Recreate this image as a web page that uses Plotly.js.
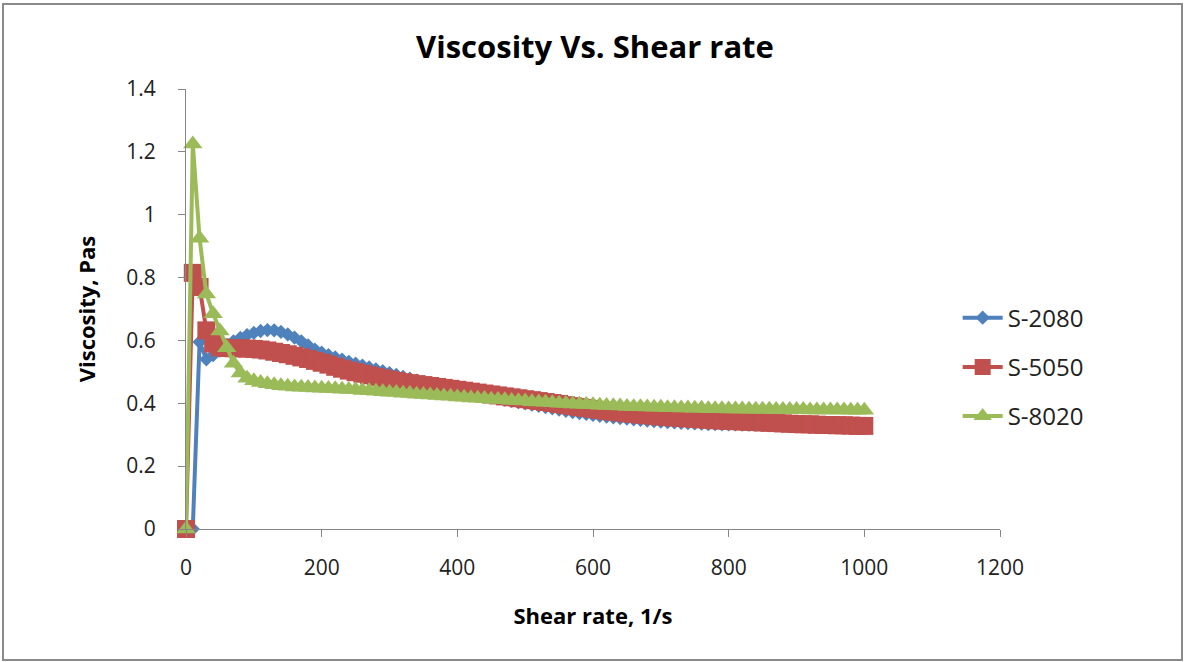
<!DOCTYPE html>
<html>
<head>
<meta charset="utf-8">
<script src="https://cdn.plot.ly/plotly-3.0.1.min.js"></script>
<style>
html,body{margin:0;padding:0;background:#fff;}
#chart{width:1190px;height:662px;}
</style>
</head>
<body>
<div id="chart"></div>
<script>
// Shear rate, 1/s
const shearRate = [0,10,20,30,40,50,60,70,80,90,100,110,120,130,140,150,160,170,180,190,200,
  210,220,230,240,250,260,270,280,290,300,310,320,330,340,350,360,370,380,390,400,
  410,420,430,440,450,460,470,480,490,500,510,520,530,540,550,560,570,580,590,600,
  610,620,630,640,650,660,670,680,690,700,710,720,730,740,750,760,770,780,790,800,
  810,820,830,840,850,860,870,880,890,900,910,920,930,940,950,960,970,980,990,1000];

// Viscosity, Pas
const s2080 = [0,0,0.595,0.54,0.553,0.568,0.583,0.597,0.608,0.617,0.624,0.63,0.633,0.632,0.627,0.619,0.609,0.597,0.584,0.571,0.561,
  0.553,0.546,0.539,0.532,0.526,0.52,0.514,0.508,0.502,0.496,0.49,0.484,0.478,0.472,0.466,0.461,0.456,0.451,0.446,0.441,
  0.437,0.432,0.428,0.424,0.42,0.416,0.412,0.408,0.404,0.4,0.396,0.392,0.388,0.384,0.38,0.376,0.372,0.369,0.366,0.363,
  0.36,0.358,0.355,0.353,0.351,0.349,0.347,0.345,0.343,0.342,0.34,0.339,0.338,0.337,0.336,0.335,0.334,0.334,0.333,0.333,
  0.333,0.332,0.332,0.332,0.331,0.331,0.331,0.33,0.33,0.33,0.329,0.329,0.329,0.328,0.328,0.328,0.327,0.327,0.327,0.326];

const s5050 = [0,0.815,0.77,0.632,0.59,0.578,0.576,0.575,0.575,0.574,0.573,0.571,0.568,0.564,0.56,0.556,0.551,0.546,0.541,0.535,0.529,
  0.523,0.516,0.51,0.504,0.499,0.494,0.489,0.484,0.479,0.475,0.471,0.467,0.464,0.461,0.458,0.455,0.452,0.449,0.446,0.443,
  0.44,0.437,0.434,0.431,0.428,0.425,0.422,0.419,0.416,0.413,0.41,0.407,0.404,0.401,0.398,0.394,0.391,0.388,0.385,0.382,
  0.379,0.376,0.373,0.371,0.368,0.366,0.364,0.362,0.36,0.358,0.356,0.355,0.353,0.352,0.35,0.349,0.347,0.346,0.345,0.344,
  0.343,0.342,0.341,0.34,0.339,0.338,0.337,0.336,0.335,0.334,0.333,0.333,0.332,0.331,0.331,0.33,0.33,0.329,0.328,0.328];

const s8020 = [0,1.225,0.925,0.748,0.685,0.63,0.577,0.527,0.496,0.48,0.472,0.466,0.462,0.459,0.456,0.454,0.452,0.451,0.45,0.449,0.448,
  0.447,0.446,0.445,0.444,0.443,0.441,0.44,0.438,0.437,0.435,0.434,0.432,0.431,0.429,0.428,0.426,0.425,0.423,0.422,0.42,
  0.419,0.417,0.416,0.415,0.413,0.412,0.411,0.409,0.408,0.407,0.405,0.404,0.403,0.402,0.4,0.399,0.398,0.397,0.396,0.395,
  0.394,0.393,0.392,0.391,0.39,0.389,0.389,0.388,0.387,0.387,0.386,0.386,0.385,0.385,0.384,0.384,0.383,0.383,0.383,0.382,
  0.382,0.382,0.381,0.381,0.381,0.381,0.38,0.38,0.38,0.38,0.38,0.379,0.379,0.379,0.379,0.379,0.379,0.378,0.378,0.378];

const seriesNames = ['S-2080','S-5050','S-8020'];
const xTickVals = [0,200,400,600,800,1000,1200];
const yTickVals = [0,0.2,0.4,0.6,0.8,1,1.2,1.4];

const FONT = '"Open Sans", "DejaVu Sans", sans-serif';

const traces = [
  {x: shearRate, y: s2080, name: seriesNames[0], legendgroup:'a', type:'scatter', mode:'lines+markers',
   line:{color:'#4F81BD', width:4}, marker:{symbol:'diamond', size:11, color:'#4F81BD'}, cliponaxis:false},
  {x: shearRate, y: s5050, name: seriesNames[1], legendgroup:'b', type:'scatter', mode:'lines+markers',
   line:{color:'#C0504D', width:4}, marker:{symbol:'square', size:18, color:'#C0504D'}, cliponaxis:false},
  {x: shearRate, y: s8020, name: seriesNames[2], legendgroup:'c', type:'scatter', mode:'lines+markers',
   line:{color:'#9BBB59', width:4}, marker:{symbol:'triangle-up', size:17, color:'#9BBB59'}, cliponaxis:false}
];

const layout = {
  width:1190, height:662, autosize:false,
  paper_bgcolor:'#ffffff', plot_bgcolor:'#ffffff',
  margin:{l:186, r:190, t:89, b:133},
  font:{family:FONT, color:'#222'},
  title:{text:'<b>Viscosity Vs. Shear rate</b>', font:{family:FONT, size:31, color:'#000'},
         x:0.5, xref:'container', y:1-47/662, yref:'container', yanchor:'middle'},
  xaxis:{range:[0,1200], tickvals:xTickVals, showgrid:false, zeroline:false,
         showline:true, linecolor:'#868686', linewidth:1,
         ticks:'outside', ticklen:7, tickcolor:'#868686',
         ticklabelstandoff:13,
         tickfont:{family:FONT, size:21, color:'#222'},
         title:{text:'<b>Shear rate, 1/s</b>', font:{family:FONT, size:22, color:'#000'}, standoff:28}},
  yaxis:{range:[0,1.4], tickvals:yTickVals, showgrid:false, zeroline:false,
         showline:true, linecolor:'#868686', linewidth:1,
         ticks:'outside', ticklen:7, tickcolor:'#868686',
         ticklabelstandoff:18,
         tickfont:{family:FONT, size:21, color:'#222'},
         title:{text:'<b>Viscosity, Pas</b>', font:{family:FONT, size:22, color:'#000'}, standoff:24}},
  showlegend:true,
  legend:{x:0.948, xanchor:'left', y:0.368, yanchor:'middle', traceorder:'grouped', tracegroupgap:15,
          font:{family:FONT, size:24, color:'#222'}, bgcolor:'rgba(0,0,0,0)', itemwidth:40},
  shapes:[{type:'rect', xref:'paper', yref:'paper', x0:-0.2248, x1:1.2236, y0:-0.2977, y1:1.193,
           line:{color:'#8a8a8a', width:2}, layer:'below'}]
};

Plotly.newPlot('chart', traces, layout, {displayModeBar:false, staticPlot:true});
</script>
</body>
</html>
